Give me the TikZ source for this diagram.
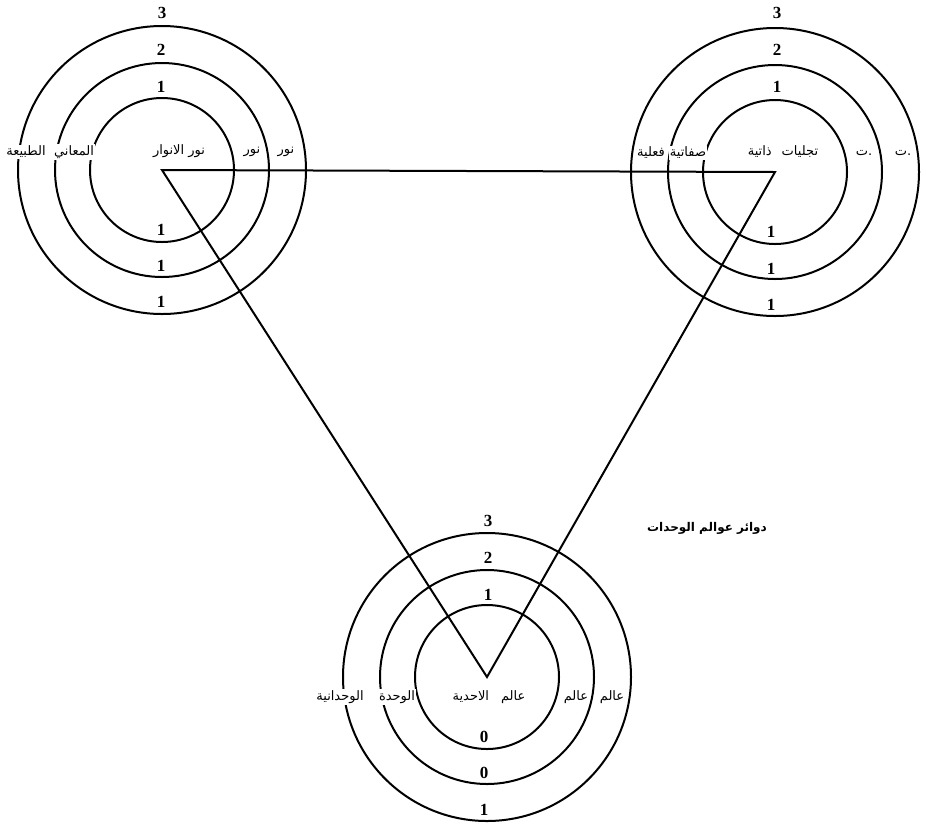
\documentclass[tikz,border=0pt]{standalone}
\usepackage{fontspec}
\newfontfamily\arabicfont[Script=Arabic]{DejaVu Sans}
\newfontfamily\numfont{Liberation Serif}
\TeXXeTstate=1
\usepackage{tikz}

\begin{document}
\begin{tikzpicture}[
  x=1pt, y=-1pt,
  ring/.style={line width=2pt},
  edge/.style={line width=2pt, line join=miter},
  lbl/.style={font=\arabicfont\fontsize{13}{15}\selectfont, fill=white, inner sep=1pt},
  num/.style={font=\numfont\bfseries\fontsize{17}{19}\selectfont, inner sep=0pt}
]
  \useasboundingbox (0,0) rectangle (926,823);
  \coordinate (nur) at (162,170);
  \coordinate (tajal) at (775,172);
  \coordinate (ahad) at (487,677);
  % rings
  \draw[ring] (nur) circle[radius=72pt] (nur) circle[radius=107pt] (nur) circle[radius=144pt];
  \draw[ring] (tajal) circle[radius=72pt] (tajal) circle[radius=107pt] (tajal) circle[radius=144pt];
  \draw[ring] (ahad) circle[radius=72pt] (ahad) circle[radius=107pt] (ahad) circle[radius=144pt];
  \draw[edge] (nur) -- (tajal) -- (ahad) -- cycle;
  % left circle
  \node[lbl] (tabia) at (26,152) {\beginR الطبيعة\endR};
  \node[lbl] (maani) at (74,152) {\beginR المعاني\endR};
  \node[lbl] (anwar) at (179,151) {\beginR نور الانوار\endR};
  \node[lbl] (nurA) at (252,152) {\beginR نور\endR};
  \node[lbl] (nurB) at (286,152) {\beginR نور\endR};
  \node[num] (nt3) at (162,13) {3};
  \node[num] (nt2) at (161,50) {2};
  \node[num] (nt1) at (161,87) {1};
  \node[num] (nb1) at (161,230) {1};
  \node[num] (nb2) at (161,266) {1};
  \node[num] (nb3) at (161,302) {1};
  % right circle
  \node[lbl] (filia) at (651,153) {\beginR فعلية\endR};
  \node[lbl] (sifat) at (688,153) {\beginR صفاتية\endR};
  \node[lbl] (dhat) at (783,152) {\beginR تجليات\hspace{10pt}ذاتية\endR};
  \node[lbl] (taA) at (864,153) {\beginR ت\endR.};
  \node[lbl] (taB) at (903,153) {\beginR ت\endR.};
  \node[num] (tt3) at (777,13) {3};
  \node[num] (tt2) at (777,50) {2};
  \node[num] (tt1) at (777,87) {1};
  \node[num] (tb1) at (771,232) {1};
  \node[num] (tb2) at (771,269) {1};
  \node[num] (tb3) at (771,305) {1};
  % bottom circle
  \node[lbl] (wahdan) at (340,697) {\beginR الوحدانية\endR};
  \node[lbl] (wahda) at (397,697) {\beginR الوحدة\endR};
  \node[lbl] (ahadia) at (489,697) {\beginR عالم\hspace{12pt}الاحدية\endR};
  \node[lbl] (alamA) at (576,697) {\beginR عالم\endR};
  \node[lbl] (alamB) at (612,697) {\beginR عالم\endR};
  \node[num] (at3) at (488,521) {3};
  \node[num] (at2) at (488,558) {2};
  \node[num] (at1) at (488,595) {1};
  \node[num] (ab1) at (484,737) {0};
  \node[num] (ab2) at (484,773) {0};
  \node[num] (ab3) at (484,810) {1};
  \node[lbl, font=\arabicfont\bfseries\fontsize{12}{14}\selectfont] (title) at (707,528) {\beginR دوائر عوالم الوحدات\endR};
\end{tikzpicture}
\end{document}
